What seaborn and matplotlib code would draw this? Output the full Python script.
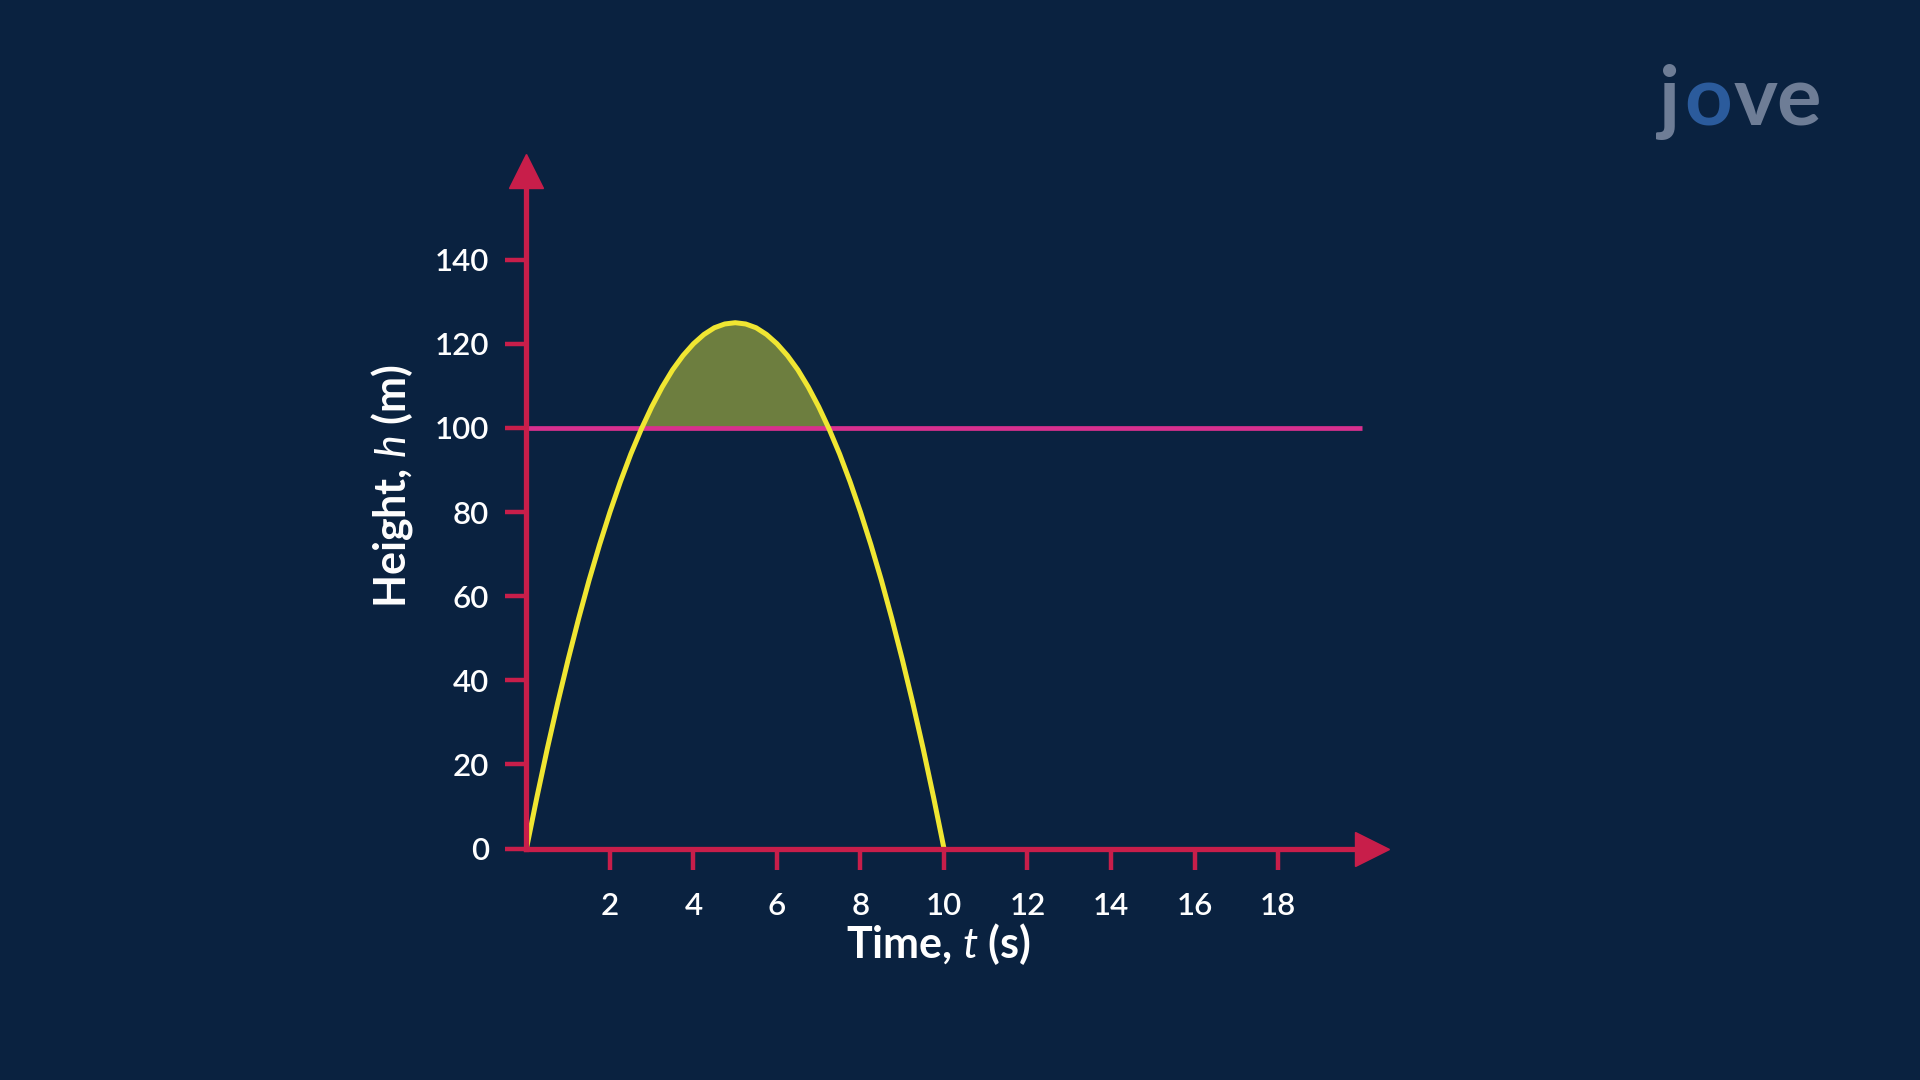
import seaborn as sns
import matplotlib
matplotlib.use("Agg")
import matplotlib.pyplot as plt
import numpy as np
import pandas as pd

# values
time_s = [0, 0.25, 0.5, 0.75, 1, 1.25, 1.5, 1.75, 2, 2.25, 2.5, 2.75, 3, 3.25, 3.5, 3.75,
          4, 4.25, 4.5, 4.75, 5, 5.25, 5.5, 5.75, 6, 6.25, 6.5, 6.75, 7, 7.25, 7.5, 7.75,
          8, 8.25, 8.5, 8.75, 9, 9.25, 9.5, 9.75, 10]
height_m = [0, 12.2, 23.8, 34.7, 45, 54.7, 63.8, 72.2, 80, 87.2, 93.8, 99.7, 105, 109.7,
            113.8, 117.2, 120, 122.2, 123.8, 124.7, 125, 124.7, 123.8, 122.2, 120, 117.2,
            113.8, 109.7, 105, 99.7, 93.8, 87.2, 80, 72.2, 63.8, 54.7, 45, 34.7, 23.8, 12.2, 0]
threshold = 100
t_max = 20
x_ticks = [2, 4, 6, 8, 10, 12, 14, 16, 18]
y_ticks = [0, 20, 40, 60, 80, 100, 120, 140]

bg = "#0a2240"
axis_red = "#c81e4a"
curve_yellow = "#f0e632"
fill_olive = "#6d7e3f"
line_pink = "#d8308e"

sns.set_theme(style="white")
plt.rcParams['font.family'] = ['Lato', 'DejaVu Sans']
plt.rcParams['mathtext.fontset'] = 'custom'
plt.rcParams['mathtext.it'] = 'Lato:italic'
plt.rcParams['mathtext.rm'] = 'Lato'

fig = plt.figure(figsize=(19.2, 10.8), dpi=100, facecolor=bg)
ax = fig.add_axes([0.2742, 0.2143, 0.4458, 0.6427])
ax.set_facecolor(bg)

df = pd.DataFrame({"t": time_s, "h": height_m})
h = np.array(height_m)
ax.fill_between(time_s, h, threshold, where=h >= threshold, interpolate=True,
                color=fill_olive, linewidth=0, zorder=2)
ax.hlines(threshold, 0, t_max, color=line_pink, linewidth=3.4, zorder=3)
sns.lineplot(data=df, x="t", y="h", ax=ax, color=curve_yellow, linewidth=3.6,
             zorder=4, sort=False)

ax.set_xlim(0, 20.5)
ax.set_ylim(0, 165)

for s in ["top", "right"]:
    ax.spines[s].set_visible(False)
ax.spines["left"].set_bounds(0, 160)
ax.spines["bottom"].set_bounds(0, 20.1)
for s in ["left", "bottom"]:
    ax.spines[s].set_color(axis_red)
    ax.spines[s].set_linewidth(3.8)
    ax.spines[s].set_zorder(5)

# arrow heads
ax.plot([0], [161], marker="^", markersize=24, color=axis_red, clip_on=False, zorder=6)
ax.plot([20.25], [0], marker=">", markersize=24, color=axis_red, clip_on=False, zorder=6)

ax.set_xticks(x_ticks)
ax.set_yticks(y_ticks)
ax.tick_params(axis="both", bottom=True, left=True, colors=axis_red, width=3.2,
               length=15, direction="out", labelcolor="white", labelsize=22.5)
ax.tick_params(axis="x", pad=16)
ax.tick_params(axis="y", pad=12)
for lab in ax.get_xticklabels() + ax.get_yticklabels():
    lab.set_fontweight("semibold")

ax.set_xlabel("Time, $t$ (s)", color="white", fontsize=31, fontweight="bold")
ax.set_ylabel("Height, $h$ (m)", color="white", fontsize=31, fontweight="bold")
ax.xaxis.set_label_coords(0.481, -0.105)
ax.yaxis.set_label_coords(-0.13, 0.522)

# logo
fig.text(0.864, 0.906, "j", color="#6e7d96", fontsize=60, fontweight="bold", va="center")
fig.text(0.877, 0.906, "o", color="#2b5b9c", fontsize=60, fontweight="bold", va="center")
fig.text(0.903, 0.906, "ve", color="#6e7d96", fontsize=60, fontweight="bold", va="center")

fig.savefig("out.png", dpi=100, facecolor=bg)
plt.close(fig)
